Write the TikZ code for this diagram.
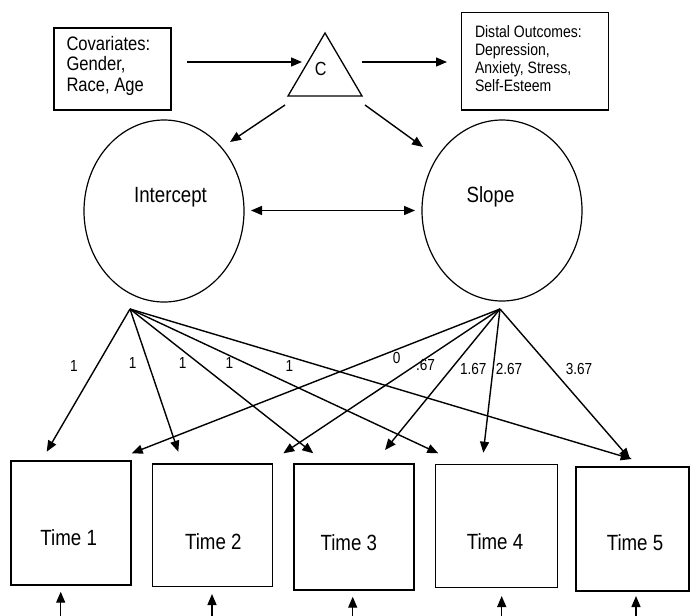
\documentclass[tikz,border=0pt]{standalone}
\usepackage{fontspec}
\setmainfont[FakeStretch=0.85]{Liberation Sans}
\usetikzlibrary{arrows.meta,shapes.geometric}

\begin{document}
\begin{tikzpicture}[x=1pt,y=-1pt,
  every node/.style={inner sep=0pt,outer sep=0pt},
  box/.style={draw,rectangle,line width=1.5pt},
  latent/.style={draw,ellipse,line width=1.2pt},
  tip/.style={Triangle[length=11pt,width=9pt]},
  arr/.style={line width=1.4pt,-{Triangle[length=11pt,width=9pt]}},
  biarr/.style={line width=1.4pt,{Triangle[length=11pt,width=9pt]}-{Triangle[length=11pt,width=9pt]}},
  bigtxt/.style={anchor=base,font=\fontsize{22}{24}\selectfont},
  covtxt/.style={anchor=base west,font=\fontsize{19.5}{21}\selectfont},
  distxt/.style={anchor=base west,font=\fontsize{16.5}{18}\selectfont},
  loadtxt/.style={anchor=base,font=\fontsize{16}{18}\selectfont},
]
\useasboundingbox (0,0) rectangle (691,616);

% covariates and distal outcome boxes
\node[box,minimum width=117pt,minimum height=82pt] (cov) at (112.5,69) {};
\node[covtxt] (cov1) at (66.5,50) {Covariates:};
\node[covtxt] (cov2) at (66.5,70) {Gender,};
\node[covtxt] (cov3) at (66.5,91) {Race, Age};

\node[box,minimum width=146.6pt,minimum height=97.3pt] (dist) at (535,61.3) {};
\node[distxt] (dist1) at (475,37.5) {Distal Outcomes:};
\node[distxt] (dist2) at (475,55.5) {Depression,};
\node[distxt] (dist3) at (475,73.5) {Anxiety, Stress,};
\node[distxt] (dist4) at (475,91.5) {Self-Esteem};

% latent class triangle
\coordinate (ctop) at (325,33);
\coordinate (cleft) at (288,96);
\coordinate (cright) at (362,96);
\draw[line width=1.3pt,line join=miter] (ctop) -- (cleft) -- (cright) -- cycle;
\node[anchor=base,font=\fontsize{19}{21}\selectfont] (C) at (320.7,75) {C};

\coordinate (covout) at (187,62);
\coordinate (cin) at (302,62);
\coordinate (cout) at (362,62);
\coordinate (distin) at (447,62);
\draw[arr] (covout) -- (cin);
\draw[arr] (cout) -- (distin);

% growth factors
\node[latent,minimum width=160pt,minimum height=182pt] (int) at (164,211) {};
\node[bigtxt] (intlbl) at (170.5,202.5) {Intercept};
\node[latent,minimum width=160pt,minimum height=181pt] (slo) at (502,210.5) {};
\node[bigtxt] (slolbl) at (490.5,202.5) {Slope};

\coordinate (cl) at (285,105);
\coordinate (cr) at (365,105);
\coordinate (intin) at (230,142);
\coordinate (sloin) at (423,147);
\draw[arr] (cl) -- (intin);
\draw[arr] (cr) -- (sloin);
\coordinate (ie) at (251,210.5);
\coordinate (se) at (415,210.5);
\draw[biarr] (ie) -- (se);

% repeated measures
\node[box,minimum width=120pt,minimum height=124pt] (t1) at (71,523) {};
\node[box,minimum width=120pt,minimum height=122.7pt] (t2) at (212.7,525.3) {};
\node[box,minimum width=120pt,minimum height=126pt] (t3) at (354,527) {};
\node[box,minimum width=121.6pt,minimum height=123pt] (t4) at (496.5,525.8) {};
\node[box,minimum width=113.3pt,minimum height=123.7pt] (t5) at (632.4,528.9) {};
\node[bigtxt] (t1lbl) at (68.7,545) {Time 1};
\node[bigtxt] (t2lbl) at (213.3,549.3) {Time 2};
\node[bigtxt] (t3lbl) at (348.8,550) {Time 3};
\node[bigtxt] (t4lbl) at (495,549.3) {Time 4};
\node[bigtxt] (t5lbl) at (635,550) {Time 5};

% factor loadings
\coordinate (ia) at (130,309);
\coordinate (sa) at (500,309);
\coordinate (i1) at (46.7,451.7);
\coordinate (i2) at (178.3,451.7);
\coordinate (i3) at (313.3,453.3);
\coordinate (i4) at (438.3,453.3);
\coordinate (i5) at (631.7,459);
\coordinate (s1) at (131.7,453.3);
\coordinate (s2) at (283.3,453.3);
\coordinate (s3) at (385,450);
\coordinate (s4) at (483.3,452.7);
\coordinate (s5) at (630,459);
\foreach \k in {1,...,5} {
  \draw[arr] (ia) -- (i\k);
  \draw[arr] (sa) -- (s\k);
}
\node[loadtxt] (l1) at (74,371.7) {1};
\node[loadtxt] (l2) at (132.7,368.3) {1};
\node[loadtxt] (l3) at (182.7,368.3) {1};
\node[loadtxt] (l4) at (229.3,368.3) {1};
\node[loadtxt] (l5) at (289.3,371.7) {1};
\node[loadtxt] (m1) at (396.7,363.3) {0};
\node[loadtxt] (m2) at (425.5,370) {.67};
\node[loadtxt] (m3) at (473.3,374) {1.67};
\node[loadtxt] (m4) at (509,374) {2.67};
\node[loadtxt] (m5) at (579,374) {3.67};

% residual arrows into each measurement
\coordinate (e1) at (60.7,618);
\coordinate (e2) at (212,618);
\coordinate (e3) at (352.7,618);
\coordinate (e4) at (501.7,618);
\coordinate (e5) at (636,618);
\coordinate (r1) at (60.7,591.7);
\coordinate (r2) at (212,594);
\coordinate (r3) at (352.7,596.7);
\coordinate (r4) at (501.7,596);
\coordinate (r5) at (636,596);
\foreach \k in {1,...,5} {
  \draw[arr] (e\k) -- (r\k);
}
\end{tikzpicture}
\end{document}
